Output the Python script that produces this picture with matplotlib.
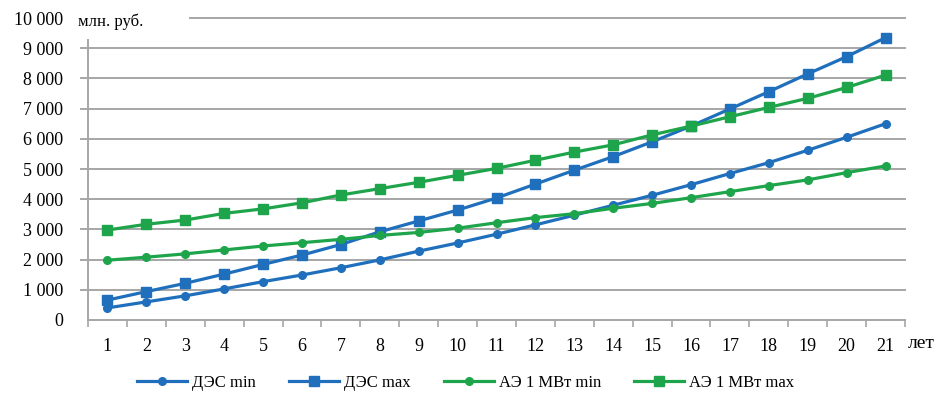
import numpy as np
import matplotlib.pyplot as plt
from matplotlib.ticker import FuncFormatter

# Data
years = list(range(1, 22))
des_min = [400, 600, 800, 1030, 1270, 1490, 1730, 1990, 2280, 2550, 2840,
           3150, 3470, 3800, 4130, 4480, 4850, 5210, 5620, 6050, 6500]
des_max = [660, 940, 1215, 1520, 1840, 2150, 2500, 2920, 3280, 3640, 4040,
           4500, 4960, 5410, 5900, 6420, 6990, 7560, 8150, 8720, 9350]
ae_min = [1980, 2080, 2190, 2320, 2450, 2560, 2670, 2800, 2900, 3040, 3220,
          3390, 3520, 3700, 3860, 4050, 4250, 4450, 4640, 4880, 5100]
ae_max = [2980, 3170, 3310, 3530, 3680, 3880, 4140, 4350, 4560, 4790, 5020,
          5290, 5560, 5800, 6130, 6420, 6730, 7040, 7340, 7700, 8110]
y_levels = [0, 1000, 2000, 3000, 4000, 5000, 6000, 7000, 8000, 9000, 10000]

BLUE = '#1f6fbc'
GREEN = '#1ea54b'
GRID = '#a6a6a6'

plt.rcParams['font.family'] = ['Liberation Serif', 'DejaVu Serif']

fig = plt.figure(figsize=(9.37, 3.98), dpi=100)
ax = fig.add_axes([88 / 937, 1 - 320 / 398, 817 / 937, 302 / 398])

# gridlines (top one starts right of the unit label)
for v in y_levels[1:]:
    ax.axhline(v, xmin=0.125 if v == 10000 else -0.008, color=GRID, lw=1.4,
               zorder=0, clip_on=False)

ax.plot(years, des_min, color=BLUE, lw=2.3, marker='o', ms=5.5, label='ДЭС min')
ax.plot(years, des_max, color=BLUE, lw=2.3, marker='s', ms=6.5, label='ДЭС max')
ax.plot(years, ae_min, color=GREEN, lw=2.3, marker='o', ms=5.5, label='АЭ 1 МВт min')
ax.plot(years, ae_max, color=GREEN, lw=2.3, marker='s', ms=6.5, label='АЭ 1 МВт max')

ax.set_xlim(0.5, 21.5)
ax.set_ylim(0, 10000)
ax.set_yticks(y_levels)
ax.yaxis.set_major_formatter(FuncFormatter(lambda v, p: f'{int(v):,}'.replace(',', ' ')))
ax.set_xticks(years)
ax.set_xticks(np.arange(0.5, 22, 1), minor=True)
ax.tick_params(axis='x', which='major', length=0, pad=13, labelsize=13)
ax.tick_params(axis='x', which='minor', length=5, color=GRID, width=1.2)
ax.tick_params(axis='y', length=0, pad=18, labelsize=13)

for s in ['top', 'right']:
    ax.spines[s].set_visible(False)
ax.spines['left'].set_color(GRID)
ax.spines['left'].set_linewidth(1.4)
ax.spines['left'].set_bounds(0, 9270)
ax.spines['bottom'].set_color(GRID)
ax.spines['bottom'].set_linewidth(1.4)

fig.text(78 / 937, 1 - 22 / 398, 'млн. руб.', fontsize=12, ha='left', va='center')
fig.text(908 / 937, 1 - 343 / 398, 'лет', fontsize=14, ha='left', va='center')

fig.legend(loc='center', bbox_to_anchor=(0.497, 1 - 383 / 398), ncol=4,
           frameon=False, fontsize=12, handlelength=3.0, columnspacing=2.0,
           handletextpad=0.3)

fig.savefig('out.png', dpi=100)
